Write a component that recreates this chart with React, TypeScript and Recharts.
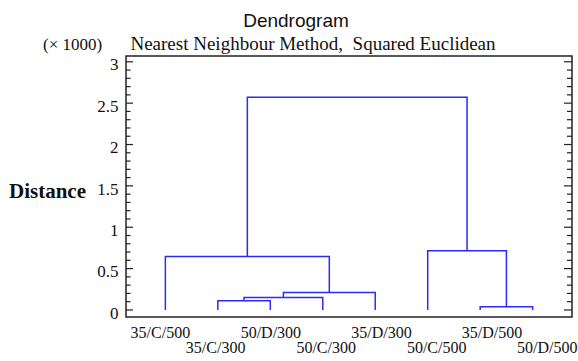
import React from "react";
import { LineChart, Line, XAxis, YAxis, ReferenceArea } from "recharts";

// Leaf order along the x axis
const leaves = ["35/C/500", "35/C/300", "50/D/300", "50/C/300", "35/D/300", "50/C/500", "35/D/500", "50/D/500"];
// Merges: "mK" refers to the cluster produced by merge K (1-based)
const mergeLeft = ["35/C/300", "m1", "m2", "35/C/500", "35/D/500", "50/C/500", "m4"];
const mergeRight = ["50/D/300", "50/C/300", "35/D/300", "m3", "50/D/500", "m5", "m6"];
const mergeDistance = [0.11, 0.15, 0.21, 0.645, 0.04, 0.715, 2.57]; // (x 1000)
const yTickLabels = ["0", "0.5", "1", "1.5", "2", "2.5", "3"];

const W = 578;
const H = 361;
const PLOT_LEFT = 126;
const PLOT_RIGHT = 572;
const PLOT_TOP = 56;
const PLOT_BOTTOM = 317;
const LINE_COLOR = "#2b2bff";
const SERIF = "'Liberation Serif', 'Times New Roman', serif";
const SANS = "'Liberation Sans', Arial, sans-serif";

type Pt = { x: number; y: number };

function buildSegments(): Pt[][] {
  const nodes: Record<string, { x: number; h: number }> = {};
  leaves.forEach((name, i) => {
    nodes[name] = { x: i + 1, h: 0 };
  });
  const segs: Pt[][] = [];
  mergeDistance.forEach((d, k) => {
    const l = nodes[mergeLeft[k]];
    const r = nodes[mergeRight[k]];
    nodes["m" + (k + 1)] = { x: (l.x + r.x) / 2, h: d };
    segs.push([
      { x: l.x, y: l.h },
      { x: l.x, y: d },
      { x: r.x, y: d },
      { x: r.x, y: r.h },
    ]);
  });
  return segs;
}

const segments = buildSegments();
const majorTicks = yTickLabels.map((s) => parseFloat(s));
const yTicks: number[] = [];
for (let i = 0; i <= 30; i++) yTicks.push(i / 10);

function labelFor(v: number): string | null {
  const idx = majorTicks.findIndex((m) => Math.abs(m - v) < 1e-6);
  return idx >= 0 ? yTickLabels[idx] : null;
}

const LeftTick = (props: any) => {
  const { y, payload } = props;
  const lab = labelFor(payload.value);
  const major = lab !== null;
  return (
    <g>
      <line x1={PLOT_LEFT} x2={PLOT_LEFT + (major ? 7 : 4.5)} y1={y} y2={y} stroke="#222" strokeWidth={1.2} />
      {major && (
        <text x={PLOT_LEFT - 7.5} y={y + 8.7} textAnchor="end" fontFamily={SERIF} fontSize={17} fill="#111">
          {lab}
        </text>
      )}
    </g>
  );
};

const RightTick = (props: any) => {
  const { y, payload } = props;
  const major = labelFor(payload.value) !== null;
  return (
    <line x1={PLOT_RIGHT - (major ? 8 : 5)} x2={PLOT_RIGHT} y1={y} y2={y} stroke="#222" strokeWidth={1.2} />
  );
};

const BottomTick = (props: any) => {
  const { x, payload, index } = props;
  const i = Math.round(payload.value) - 1;
  const name = leaves[i];
  const lower = i % 2 === 1;
  const dx = -5 + (index ?? i) * 2.8;
  return (
    <text
      x={x + dx}
      y={lower ? 353 : 338}
      textAnchor="middle"
      fontFamily={SERIF}
      fontSize={16}
      fill="#111"
    >
      {name}
    </text>
  );
};

export default function App() {
  return (
    <div style={{ position: "absolute", left: 0, top: 0, width: W, height: H, background: "#fff" }}>
      <LineChart
        width={W}
        height={H}
        margin={{ top: PLOT_TOP, right: 0, bottom: 0, left: 0 }}
      >
        <XAxis
          type="number"
          dataKey="x"
          domain={[0.25, 8.75]}
          allowDataOverflow
          ticks={leaves.map((_, i) => i + 1)}
          tick={<BottomTick />}
          tickLine={false}
          axisLine={false}
          height={H - PLOT_BOTTOM}
          interval={0}
        />
        <YAxis
          yAxisId="l"
          type="number"
          domain={[-0.085, 3.07]}
          allowDataOverflow
          ticks={yTicks}
          tick={<LeftTick />}
          tickLine={false}
          axisLine={false}
          tickSize={0}
          tickMargin={0}
          width={PLOT_LEFT}
          interval={0}
        />
        <YAxis
          yAxisId="r"
          orientation="right"
          type="number"
          domain={[-0.085, 3.07]}
          allowDataOverflow
          ticks={yTicks}
          tick={<RightTick />}
          tickLine={false}
          axisLine={false}
          tickSize={0}
          tickMargin={0}
          width={W - PLOT_RIGHT}
          interval={0}
        />
        <ReferenceArea
          yAxisId="l"
          x1={0.25}
          x2={8.75}
          y1={-0.085}
          y2={3.07}
          fill="none"
          fillOpacity={0}
          stroke="#222"
          strokeWidth={1.5}
          ifOverflow="visible"
        />
        {segments.map((seg, k) => (
          <Line
            key={k}
            yAxisId="l"
            data={seg}
            dataKey="y"
            type="linear"
            stroke={LINE_COLOR}
            strokeWidth={1.5}
            dot={false}
            activeDot={false}
            isAnimationActive={false}
          />
        ))}
      </LineChart>
      <svg
        width={W}
        height={H}
        style={{ position: "absolute", left: 0, top: 0, pointerEvents: "none" }}
      >
        <text x={296} y={27} textAnchor="middle" fontFamily={SANS} fontSize={19} fill="#111">
          Dendrogram
        </text>
        <text x={313} y={50} textAnchor="middle" fontFamily={SERIF} fontSize={19} fill="#111">
          Nearest Neighbour Method,{"\u00a0\u00a0"}Squared Euclidean
        </text>
        <text x={43} y={50} textAnchor="start" fontFamily={SERIF} fontSize={17} fill="#111">
          (× 1000)
        </text>
        <text x={9} y={197.5} textAnchor="start" fontFamily={SERIF} fontSize={21} fontWeight="bold" fill="#111">
          Distance
        </text>
      </svg>
    </div>
  );
}
